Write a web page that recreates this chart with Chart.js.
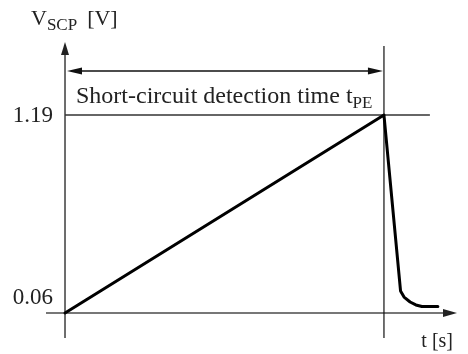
<!DOCTYPE html>
<html>
<head>
<meta charset="utf-8">
<script src="https://cdn.jsdelivr.net/npm/chart.js@4/dist/chart.umd.min.js"></script>
<style>
  html, body { margin: 0; padding: 0; background: #fff; }
  #wrap { width: 468px; height: 354px; }
</style>
</head>
<body>
<div id="wrap"><canvas id="grafico" width="468" height="354"></canvas></div>
<script>
// datos (t relativo a tPE = 1)
const tiempos = [0, 1, 1.052, 1.063, 1.082, 1.100, 1.119, 1.169];
const voltajes = [0.06, 1.19, 0.186, 0.151, 0.123, 0.106, 0.097, 0.097];
const yTicks = [0.06, 1.19];
const yTickLabels = ["0.06", "1.19"];
const tPE = 1;

const SERIF = '"Liberation Serif", "DejaVu Serif", serif';
const EJE = "#4a4a4a";

function flecha(ctx, x, y, dir, largo, ancho) {
    // dir: "up", "right", "left"
    ctx.beginPath();
    if (dir === "up") {
        ctx.moveTo(x, y);
        ctx.lineTo(x - ancho, y + largo);
        ctx.lineTo(x + ancho, y + largo);
    } else if (dir === "right") {
        ctx.moveTo(x, y);
        ctx.lineTo(x - largo, y - ancho);
        ctx.lineTo(x - largo, y + ancho);
    } else {
        ctx.moveTo(x, y);
        ctx.lineTo(x + largo, y - ancho);
        ctx.lineTo(x + largo, y + ancho);
    }
    ctx.closePath();
    ctx.fill();
}

const ejesPlugin = {
    id: "ejes",
    beforeDatasetsDraw(chart) {
        const ctx = chart.ctx;
        const xs = chart.scales.x, ys = chart.scales.y;
        const area = chart.chartArea;
        const x0 = xs.getPixelForValue(0);
        const y0 = ys.getPixelForValue(yTicks[0]);
        const xPE = xs.getPixelForValue(tPE);
        const yTop = ys.getPixelForValue(yTicks[1]);

        ctx.save();
        ctx.strokeStyle = EJE;
        ctx.fillStyle = "#222";
        ctx.lineWidth = 1.6;

        // eje Y
        ctx.beginPath();
        ctx.moveTo(x0, area.bottom);
        ctx.lineTo(x0, area.top + 10);
        ctx.stroke();
        flecha(ctx, x0, area.top, "up", 13, 4);

        // eje X
        ctx.beginPath();
        ctx.moveTo(area.left, y0);
        ctx.lineTo(area.right - 10, y0);
        ctx.stroke();
        flecha(ctx, area.right, y0, "right", 14, 4);

        // linea horizontal 1.19
        ctx.strokeStyle = "#333";
        ctx.lineWidth = 1.4;
        ctx.beginPath();
        ctx.moveTo(x0, yTop);
        ctx.lineTo(xs.getPixelForValue(1.144), yTop);
        ctx.stroke();

        // linea vertical tPE
        ctx.lineWidth = 1.2;
        ctx.strokeStyle = "#111";
        ctx.beginPath();
        ctx.moveTo(xPE, area.top + 4);
        ctx.lineTo(xPE, area.bottom);
        ctx.stroke();

        // flecha doble
        const yF = 71;
        ctx.strokeStyle = "#111";
        ctx.fillStyle = "#111";
        ctx.lineWidth = 1.3;
        ctx.beginPath();
        ctx.moveTo(x0 + 12, yF);
        ctx.lineTo(xPE - 12, yF);
        ctx.stroke();
        flecha(ctx, x0 + 2, yF, "left", 15, 3.5);
        flecha(ctx, xPE - 1, yF, "right", 15, 3.5);

        // textos
        ctx.fillStyle = "#222";
        ctx.textBaseline = "alphabetic";
        ctx.font = "23px " + SERIF;
        ctx.textAlign = "right";
        ctx.fillText(yTickLabels[1], x0 - 12, yTop + 7);
        ctx.fillText(yTickLabels[0], x0 - 12, y0 - 9);

        ctx.textAlign = "left";
        let tx = 76;
        const txt = "Short-circuit detection time t";
        ctx.font = "24px " + SERIF;
        ctx.fillText(txt, tx, 103);
        tx += ctx.measureText(txt).width;
        ctx.font = "17px " + SERIF;
        ctx.fillText("PE", tx, 108);

        // etiqueta eje Y
        ctx.font = "22px " + SERIF;
        ctx.fillText("V", 31, 25);
        let vx = 31 + ctx.measureText("V").width;
        ctx.font = "17px " + SERIF;
        ctx.fillText("SCP", vx, 30);
        vx += ctx.measureText("SCP").width + 10;
        ctx.font = "22px " + SERIF;
        ctx.fillText("[V]", vx, 25);

        // etiqueta eje X
        ctx.textAlign = "right";
        ctx.font = "20px " + SERIF;
        ctx.fillText("t [s]", 453, 347);
        ctx.restore();
    }
};

const puntos = tiempos.map((t, i) => ({ x: t, y: voltajes[i] }));

new Chart(document.getElementById("grafico"), {
    type: "scatter",
    data: {
        datasets: [{
            data: puntos,
            showLine: true,
            borderColor: "#000",
            borderWidth: 3,
            pointRadius: 0,
            tension: 0,
            borderJoinStyle: "round",
            borderCapStyle: "round"
        }]
    },
    options: {
        responsive: false,
        animation: false,
        layout: { padding: { left: 46, right: 11, top: 42, bottom: 16 } },
        plugins: {
            legend: { display: false },
            tooltip: { enabled: false }
        },
        scales: {
            x: { type: "linear", display: false, min: -0.0596, max: 1.229 },
            y: { type: "linear", display: false, min: -0.0827, max: 1.607 }
        }
    },
    plugins: [ejesPlugin]
});
</script>
</body>
</html>
